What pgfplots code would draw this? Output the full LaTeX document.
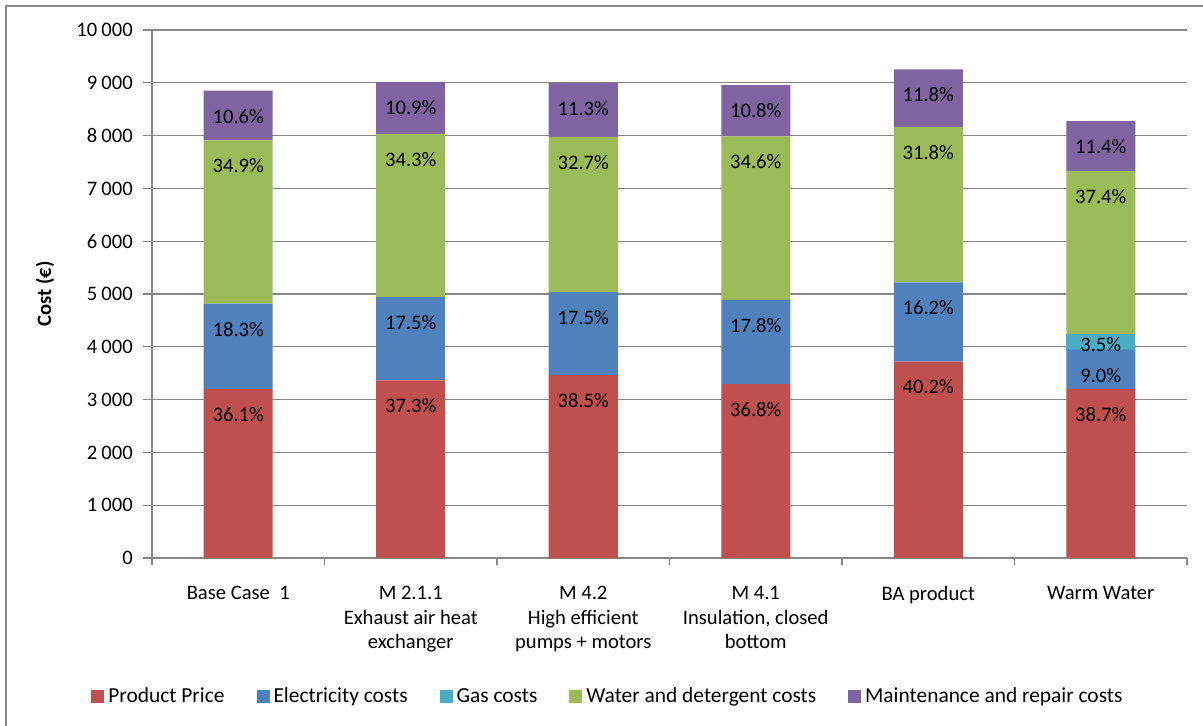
\documentclass[border=0pt]{standalone}
\usepackage{fontspec}
\setmainfont{Carlito}
\usepackage{pgfplots}
\pgfplotsset{compat=1.18}

\definecolor{cprice}{HTML}{C0504D}
\definecolor{celec}{HTML}{4F81BD}
\definecolor{cgas}{HTML}{4BACC6}
\definecolor{cwater}{HTML}{9BBB59}
\definecolor{cmaint}{HTML}{8064A2}
\definecolor{cline}{HTML}{878787}

\newcommand{\chartfont}{\fontsize{10.3}{12.25}\selectfont}

\begin{document}
\chartfont
\begin{tikzpicture}
\begin{axis}[
    at={(0,0)}, anchor=south west,
    scale only axis, width=517.5pt, height=264pt,
    ybar stacked, bar width=0.4,
    xmin=-0.5, xmax=5.5, ymin=0, ymax=10000,
    axis lines*=left,
    axis line style={-, draw=cline, line width=0.7pt},
    ymajorgrids, grid style={draw=cline, line width=0.6pt},
    ytick={0,1000,...,10000},
    scaled y ticks=false,
    /pgf/number format/assume math mode=true,
    /pgf/number format/1000 sep={\hspace{0.2em}},
    tick align=outside,
    major tick length=4.5pt,
    minor tick length=3.5pt,
    y tick style={draw=cline, line width=0.6pt},
    major x tick style={draw=none},
    minor x tick style={draw=cline, line width=0.6pt},
    xtick={0,1,2,3,4,5},
    minor xtick={-0.5,0.5,1.5,2.5,3.5,4.5,5.5},
    xticklabels={Base Case\ \ 1,
        {M 2.1.1\\Exhaust air heat\\exchanger},
        {M 4.2\\High efficient\\pumps + motors},
        {M 4.1\\Insulation, closed\\bottom},
        BA product,
        Warm Water},
    tick label style={font=\chartfont, text=black},
    xticklabel style={align=center, anchor=north, yshift=-6pt},
    yticklabel style={xshift=-1.5pt},
    ylabel={\textbf{Cost (€)}},
    every axis y label/.style={at={(axis description cs:-0.1034,0.5)}, rotate=90, anchor=center, font=\chartfont},
    point meta=explicit symbolic,
    visualization depends on={rawy \as \segy},
    nodes near coords,
    nodes near coords style={anchor=center, yshift={0.0132*\segy*1pt-12.75pt}, text=black, font=\chartfont},
    legend columns=-1,
    legend cell align=left,
    legend style={at={(axis description cs:0.4415,-0.263)}, anchor=center, draw=none, fill=none,
        font=\fontsize{10.7}{12.25}\selectfont,
        /tikz/every even column/.append style={column sep=14pt}},
    legend image code/.code={\fill[#1] (0pt,-3.25pt) rectangle (6.5pt,3.25pt);},
]
\addplot[fill=cprice, draw=none] coordinates {
    (0,3198) [36.1\%] (1,3363) [37.3\%] (2,3463) [38.5\%]
    (3,3295) [36.8\%] (4,3721) [40.2\%] (5,3202) [38.7\%]};
\addlegendentry{Product Price}
\addplot[fill=celec, draw=none] coordinates {
    (0,1621) [18.3\%] (1,1578) [17.5\%] (2,1574) [17.5\%]
    (3,1594) [17.8\%] (4,1499) [16.2\%] (5,745) [9.0\%]};
\addlegendentry{Electricity costs}
\addplot[fill=cgas, draw=none, nodes near coords style={yshift=7.5pt}] coordinates {
    (0,0) [{}] (1,0) [{}] (2,0) [{}]
    (3,0) [{}] (4,0) [{}] (5,290) [3.5\%]};
\addlegendentry{Gas costs}
\addplot[fill=cwater, draw=none] coordinates {
    (0,3092) [34.9\%] (1,3092) [34.3\%] (2,2941) [32.7\%]
    (3,3098) [34.6\%] (4,2943) [31.8\%] (5,3095) [37.4\%]};
\addlegendentry{Water and detergent costs}
\addplot[fill=cmaint, draw=none] coordinates {
    (0,939) [10.6\%] (1,983) [10.9\%] (2,1016) [11.3\%]
    (3,967) [10.8\%] (4,1092) [11.8\%] (5,943) [11.4\%]};
\addlegendentry{Maintenance and repair costs}
\end{axis}
\draw[cline, line width=0.8pt] (-73pt,-90pt) -- (-73pt,276pt) -- (530pt,276pt);
\pgfresetboundingbox
\useasboundingbox (-76pt,-83.5pt) rectangle (525.5pt,279pt);
\end{tikzpicture}
\end{document}
